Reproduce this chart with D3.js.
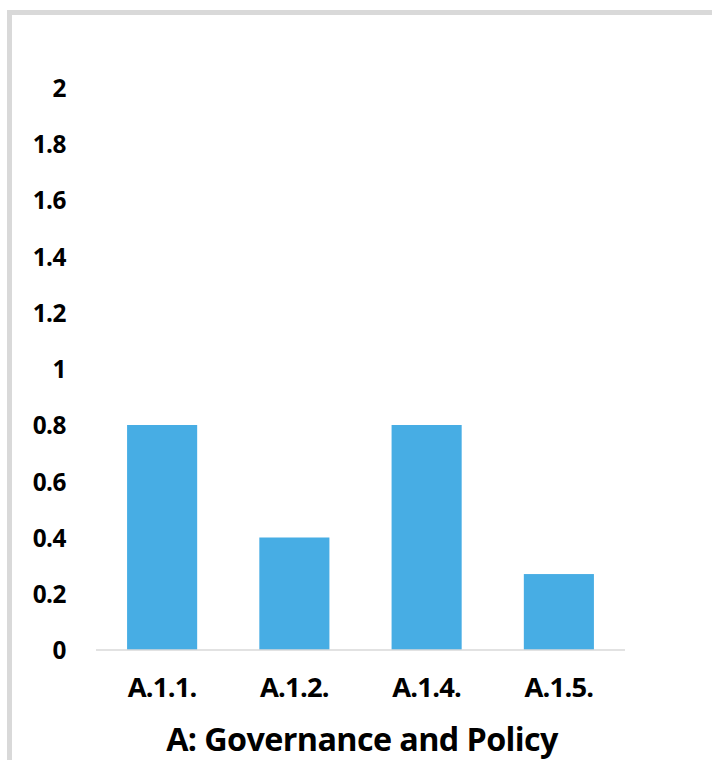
<!DOCTYPE html>
<html>
<head>
<meta charset="utf-8">
<script src="https://cdn.jsdelivr.net/npm/d3@7"></script>
<style>
  html, body { margin: 0; padding: 0; background: #fff; }
  svg { display: block; }
  text { font-family: "Open Sans", sans-serif; font-weight: 700; fill: #000; }
</style>
</head>
<body>
<script>
// Scores per indicator
const categories = ["A.1.1.", "A.1.2.", "A.1.4.", "A.1.5."];
const values = [0.8, 0.4, 0.8, 0.27];
const yTicks = [0, 0.2, 0.4, 0.6, 0.8, 1, 1.2, 1.4, 1.6, 1.8, 2];
const title = "A: Governance and Policy";

const W = 712, H = 760;
const FONT = "'Open Sans', sans-serif";
const svg = d3.select("body").append("svg").attr("width", W).attr("height", H);

// size a text sample so that it spans the given width
function fitSize(sample, width, spacing) {
  const t = svg.append("text").style("font-family", FONT).style("font-size", "20px")
    .style("letter-spacing", spacing + "px").text(sample);
  const w = t.node().getComputedTextLength();
  t.remove();
  return 20 * width / w;
}

// chart frame (runs off the right and bottom edges)
svg.append("rect")
  .attr("x", 9.5).attr("y", 12.5)
  .attr("width", W + 20).attr("height", H + 20)
  .attr("fill", "none").attr("stroke", "#d9d9d9").attr("stroke-width", 5);

const plot = { left: 96, right: 625, top: 87.5, bottom: 650 };

const x = d3.scaleBand().domain(categories)
  .range([plot.left, plot.right]).paddingInner(0.47).paddingOuter(0.235);
const y = d3.scaleLinear().domain([0, 2]).range([plot.bottom, plot.top]);

// bars
svg.append("g").selectAll("rect").data(values).join("rect")
  .attr("x", (d, i) => x(categories[i]))
  .attr("width", x.bandwidth())
  .attr("y", d => y(d))
  .attr("height", d => y(0) - y(d))
  .attr("fill", "#47ade4");

// y axis labels only
const tickSize = fitSize("0.8", 33, -0.5);
const yAxis = d3.axisLeft(y).tickValues(yTicks).tickSize(0).tickPadding(0)
  .tickFormat(d => String(+d.toFixed(1)));
const gy = svg.append("g").attr("transform", "translate(66,0)").call(yAxis);
gy.select(".domain").remove();
gy.selectAll("text").style("font-size", tickSize + "px").style("font-family", FONT)
  .style("letter-spacing", "-0.5px").attr("dy", "0.36em");

// category axis
const catSize = fitSize("A.1.1.", 67, -0.8);
const xAxis = d3.axisBottom(x).tickSize(0).tickPadding(0);
const gx = svg.append("g").attr("transform", `translate(0,${plot.bottom})`).call(xAxis);
gx.select(".domain").attr("stroke", "#d9d9d9").attr("stroke-width", 1.5)
  .attr("d", `M${plot.left},0H${plot.right}`);
gx.selectAll("text").style("font-size", catSize + "px").style("font-family", FONT)
  .style("letter-spacing", "-0.8px")
  .attr("y", 47).attr("dy", 0);

// title
const titleSize = fitSize(title, 383, -0.6);
svg.append("text")
  .attr("x", (plot.left + plot.right) / 2 + 1.5).attr("y", 751)
  .attr("text-anchor", "middle")
  .style("font-size", titleSize + "px")
  .style("letter-spacing", "-0.6px")
  .text(title);
</script>
</body>
</html>
